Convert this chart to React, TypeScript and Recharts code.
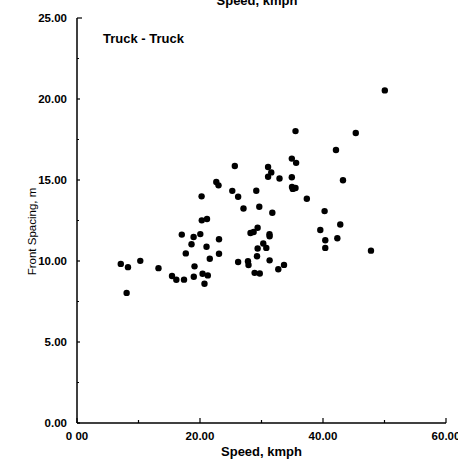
import React from 'react';
import { ScatterChart, Scatter, XAxis, YAxis } from 'recharts';

// Truck following truck: vehicle speed (km/h) against front spacing (m)
const speedKmph = [
  7.12, 8.29, 8.07, 10.29, 13.25, 15.45, 16.15, 17.4, 17.04, 18.96,
  18.62, 17.69, 19.11, 18.99, 20.05, 20.26, 20.29, 21.14, 21.06, 20.42,
  21.27, 20.73, 21.59, 23.09, 23.09, 22.65, 23.01, 25.66, 25.25, 26.2,
  27.07, 26.2, 27.8, 27.89, 29.15, 29.64, 28.21, 28.72, 29.37, 29.37,
  29.27, 28.88, 29.72, 31.76, 31.3, 31.32, 30.29, 30.78, 31.32, 33.66,
  32.73, 31.07, 31.59, 31.07, 32.93, 34.93, 35.63, 34.93, 34.96, 35.53,
  35.09, 35.53, 37.37, 43.25, 40.26, 42.81, 39.56, 42.33, 40.37, 40.37,
  47.8, 42.11, 45.33, 50.05,
];
const frontSpacingM = [
  9.82, 9.62, 8.03, 10.01, 9.56, 9.07, 8.84, 8.85, 11.63, 11.48,
  11.03, 10.47, 9.67, 9.03, 11.66, 13.99, 12.51, 12.59, 10.88, 9.21,
  9.11, 8.6, 10.14, 11.34, 10.45, 14.88, 14.67, 15.86, 14.33, 13.97,
  13.24, 9.94, 9.99, 9.75, 14.34, 13.35, 11.73, 11.79, 12.05, 10.77,
  10.29, 9.27, 9.23, 12.98, 11.65, 11.53, 11.08, 10.81, 10.04, 9.76,
  9.49, 15.8, 15.47, 15.2, 15.09, 16.32, 16.06, 15.17, 14.57, 14.51,
  14.45, 18.02, 13.84, 14.98, 13.08, 12.25, 11.91, 11.4, 11.28, 10.81,
  10.64, 16.85, 17.9, 20.53,
];

const xTicks = [0, 10, 20, 30, 40, 50, 60];
const xMajorLabels: Record<number, string> = { 0: '0 00', 20: '20.00', 40: '40.00', 60: '60.00' };
const yTicks = [0, 2.5, 5, 7.5, 10, 12.5, 15, 17.5, 20, 22.5, 25];
const yMajorLabels: Record<number, string> = { 0: '0.00', 5: '5.00', 10: '10.00', 15: '15.00', 20: '20.00', 25: '25.00' };

const points = speedKmph.map((s, i) => ({ speed: s, spacing: frontSpacingM[i] }));

const FONT = 'Liberation Sans, Arial, Helvetica, sans-serif';
// offset of the tick label anchor from the axis line (tickSize + tickMargin)
const TICK_OFFSET = 6;

// inward tick marks, labels only on the major values
const XTick = (props: any) => {
  const { x, y, payload } = props;
  const axisY = y - TICK_OFFSET;
  const label = xMajorLabels[payload.value];
  const len = label ? 5 : 3;
  return (
    <g>
      <line x1={x} x2={x} y1={axisY} y2={axisY - len} stroke="#000" strokeWidth={1.2} />
      {label ? (
        <text x={x} y={axisY + 17} textAnchor="middle" fontFamily={FONT} fontSize={11.5} fontWeight="bold" fill="#000">
          {label}
        </text>
      ) : null}
    </g>
  );
};

const YTick = (props: any) => {
  const { x, y, payload } = props;
  const axisX = x + TICK_OFFSET;
  const label = yMajorLabels[payload.value];
  const len = payload.value === 25 ? 5 : label ? 3 : 2;
  return (
    <g>
      <line x1={axisX} x2={axisX + len} y1={y} y2={y} stroke="#000" strokeWidth={1.2} />
      {label ? (
        <text x={axisX - 10} y={y + 4} textAnchor="end" fontFamily={FONT} fontSize={11.5} fontWeight="bold" fill="#000">
          {label}
        </text>
      ) : null}
    </g>
  );
};

// rotated title of the spacing axis, centred a little below the plot middle
const SpacingTitle = (props: any) => {
  const { viewBox } = props;
  const cx = 36;
  const cy = viewBox.y + viewBox.height / 2 + 11;
  return (
    <g transform={`translate(${cx},${cy}) rotate(-90)`}>
      <text x={0} y={0} textAnchor="middle" fontFamily={FONT} fontSize={11.5} fill="#000">
        Front Spacing, m
      </text>
    </g>
  );
};

const Dot = (props: any) => <circle cx={props.cx} cy={props.cy} r={3.2} fill="#000" />;

export default function App() {
  return (
    <div style={{ position: 'absolute', left: 0, top: 0, width: 458, height: 462, background: '#fff' }}>
      <ScatterChart width={458} height={462} margin={{ top: 18, right: 12, left: 0, bottom: 0 }}>
        <XAxis
          type="number"
          dataKey="speed"
          domain={[0, 60]}
          ticks={xTicks}
          interval={0}
          height={39}
          tickSize={6}
          tickMargin={0}
          tickLine={false}
          tick={<XTick />}
          stroke="#000"
          strokeWidth={1.3}
          label={{ value: 'Speed, kmph', position: 'insideBottom', offset: 6, fontFamily: FONT, fontSize: 13, fontWeight: 'bold', fill: '#000' }}
        />
        <YAxis
          type="number"
          dataKey="spacing"
          domain={[0, 25]}
          ticks={yTicks}
          interval={0}
          width={77}
          tickSize={6}
          tickMargin={0}
          tickLine={false}
          tick={<YTick />}
          stroke="#000"
          strokeWidth={1.5}
          label={<SpacingTitle />}
        />
        <Scatter data={points} shape={<Dot />} isAnimationActive={false} />
        <text x={257} y={5} textAnchor="middle" fontFamily={FONT} fontSize={13} fontWeight="bold" fill="#000">
          Speed, kmph
        </text>
        <text x={103} y={43} fontFamily={FONT} fontSize={13} fontWeight="bold" fill="#000">
          Truck - Truck
        </text>
      </ScatterChart>
    </div>
  );
}
